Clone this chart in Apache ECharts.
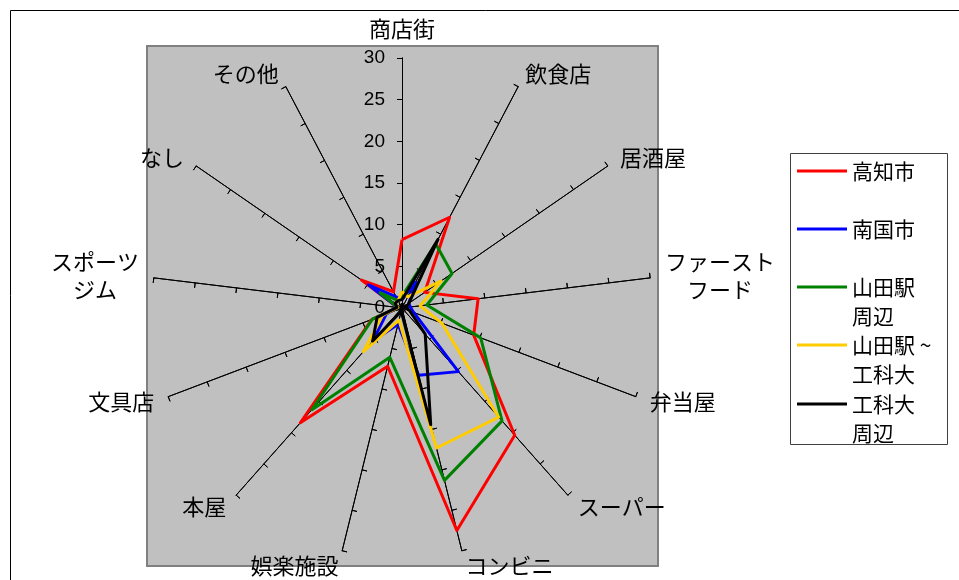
<!DOCTYPE html>
<html>
<head>
<meta charset="utf-8">
<script src="https://cdn.jsdelivr.net/npm/echarts@6/dist/echarts.min.js"></script>
<style>
    html, body { margin: 0; padding: 0; background: #fff; }
    #chart { width: 959px; height: 580px; }
</style>
</head>
<body>
<div id="chart"></div>
<script>
const categories = ['商店街', '飲食店', '居酒屋', 'ファーストフード', '弁当屋', 'スーパー', 'コンビニ', '娯楽施設', '本屋', '文具店', 'スポーツジム', 'なし', 'その他'];
const axisMax = 30;
const seriesNames = ['高知市', '南国市', '山田駅周辺', '山田駅~工科大', '工科大周辺'];
const legendLabels = ['高知市', '南国市', '\n山田駅\n周辺', '\n山田駅 ~\n工科大', '\n工科大\n周辺'];
const seriesColors = ['#ff0000', '#0000ff', '#008000', '#ffcc00', '#000000'];

// values in clockwise order, starting at 商店街
const kochi = [8.2, 12.3, 3.3, 9.2, 9.2, 20.4, 27.5, 7.2, 18.4, 3.9, 0.5, 5.9, 2.2];
const nankoku = [1, 3.5, 1, 1, 1.5, 10.2, 8.3, 2, 5.3, 2, 0.5, 4.9, 1.5];
const yamadaEki = [1.4, 8.7, 7.3, 3.0, 10.1, 18.1, 21.3, 6.1, 16.3, 3.8, 0.5, 3.2, 1];
const yamadaKoka = [2.0, 1.5, 5.7, 2.2, 5.1, 17.5, 17.3, 1.5, 7.0, 2.5, 0.5, 1, 1];
const kokadai = [1, 9.3, 1, 0.5, 1, 4.2, 14.4, 0.4, 5.3, 3.2, 0.6, 1, 1];
const seriesValues = [kochi, nankoku, yamadaEki, yamadaKoka, kokadai];

const jpFont = '"Noto Sans CJK JP", sans-serif';
const numFont = '"Liberation Sans", Arial, sans-serif';

// echarts lays indicators out counter-clockwise, the original goes clockwise
const order = categories.map((c, i) => (categories.length - i) % categories.length);

const nameLabels = {
    'ファーストフード': '{c|ファースト}\n{c|フード}',
    'スポーツジム': '{c|スポーツ}\n{c|ジム}'
};

const indicator = order.map(i => {
    let ind = { name: categories[i], min: 0, max: axisMax };
    if (i === 0) ind.axisLabel = { show: true };
    return ind;
});

const radarBase = {
    center: [402, 308],
    radius: 250,
    startAngle: 90,
    splitNumber: 6,
    shape: 'polygon',
    splitLine: { show: false },
    splitArea: { show: false },
    axisLine: { lineStyle: { color: '#000', width: 1 } }
};

const legendTops = [156.5, 214.5, 243.5, 301.5, 360.5];

let option = {
    animation: false,
    backgroundColor: '#fff',
    graphic: [
        {
            type: 'rect', z: -10, silent: true,
            shape: { x: 10.5, y: 10.5, width: 1000, height: 600 },
            style: { fill: '#fff', stroke: '#000', lineWidth: 1 }
        },
        {
            type: 'rect', z: -9, silent: true,
            shape: { x: 147, y: 46, width: 511, height: 520 },
            style: { fill: '#c0c0c0', stroke: '#808080', lineWidth: 2 }
        },
        {
            type: 'rect', z: -9, silent: true,
            shape: { x: 790.5, y: 153.5, width: 157, height: 291 },
            style: { fill: '#fff', stroke: '#404040', lineWidth: 1 }
        }
    ],
    radar: [
        Object.assign({}, radarBase, {
            indicator: indicator,
            nameGap: 15,
            axisName: {
                color: '#000',
                fontSize: 22,
                fontFamily: jpFont,
                lineHeight: 28,
                formatter: name => nameLabels[name] || name,
                rich: {
                    c: { align: 'center', fontSize: 22, lineHeight: 28, fontFamily: jpFont, color: '#000' }
                }
            },
            axisTick: { show: true, length: 5, lineStyle: { color: '#000', width: 1 } },
            axisLabel: { show: false, color: '#000', fontSize: 19, fontFamily: numFont, margin: 17 }
        }),
        Object.assign({}, radarBase, {
            indicator: order.map(i => ({ name: categories[i], min: 0, max: axisMax })),
            axisName: { show: false },
            axisTick: { show: true, inside: true, length: 5, lineStyle: { color: '#000', width: 1 } },
            axisLabel: { show: false }
        })
    ],
    legend: seriesNames.map((name, s) => ({
        data: [name],
        orient: 'vertical',
        left: 797,
        top: legendTops[s],
        padding: 0,
        itemWidth: 50,
        itemHeight: 3,
        icon: 'rect',
        selectedMode: false,
        formatter: () => legendLabels[s],
        textStyle: { color: '#000', fontSize: 21, lineHeight: 29, fontFamily: jpFont }
    })),
    series: seriesNames.map((name, s) => ({
        name: name,
        type: 'radar',
        radarIndex: 0,
        symbol: 'none',
        lineStyle: { color: seriesColors[s], width: 3 },
        itemStyle: { color: seriesColors[s] },
        data: [{ name: name, value: order.map(i => seriesValues[s][i]) }]
    }))
};

let myChart = echarts.init(document.getElementById('chart'));
myChart.setOption(option);
</script>
</body>
</html>
